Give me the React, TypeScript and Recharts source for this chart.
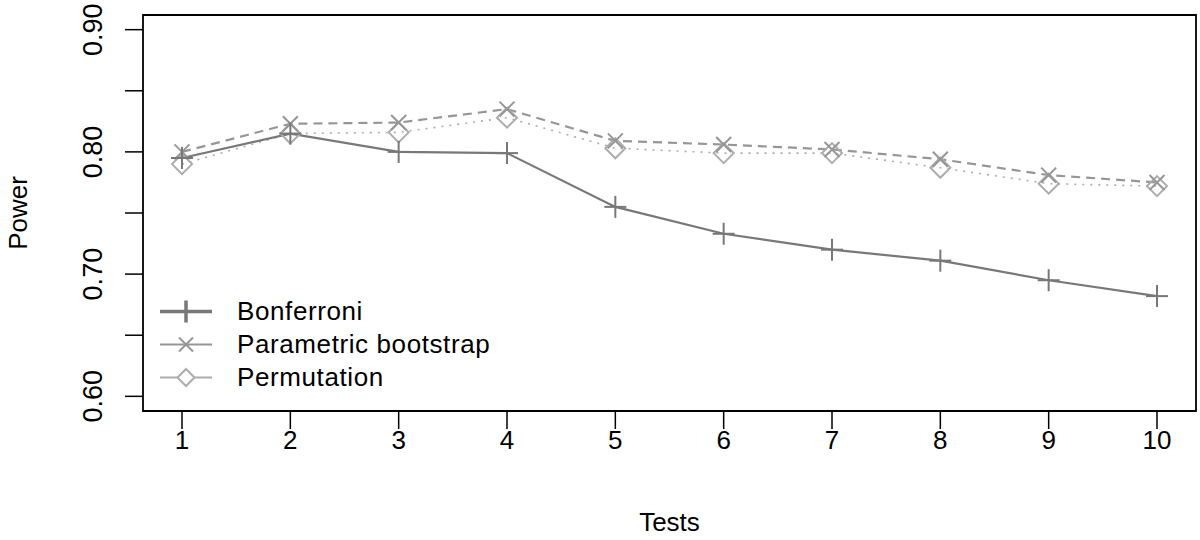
import React from "react";
import { LineChart, Line, XAxis, YAxis, ReferenceArea } from "recharts";

const tests = [1, 2, 3, 4, 5, 6, 7, 8, 9, 10];
const bonferroni = [0.795, 0.815, 0.8, 0.799, 0.755, 0.733, 0.72, 0.711, 0.695, 0.682];
const bootstrap = [0.8, 0.823, 0.824, 0.835, 0.809, 0.806, 0.802, 0.794, 0.781, 0.775];
const permutation = [0.79, 0.815, 0.816, 0.828, 0.803, 0.799, 0.799, 0.787, 0.774, 0.772];
const yTicks = [0.6, 0.65, 0.7, 0.75, 0.8, 0.85, 0.9];
const yLabelled = [0.6, 0.7, 0.8, 0.9];
const xDomain = [0.64, 10.36];
const yDomain = [0.588, 0.912];
const seriesNames = ["Bonferroni", "Parametric bootstrap", "Permutation"];

const data = tests.map((t, i) => ({
  test: t,
  bonferroni: bonferroni[i],
  bootstrap: bootstrap[i],
  permutation: permutation[i],
}));

const FONT = "'Liberation Sans', Arial, Helvetica, sans-serif";
const C_BON = "#787878";
const C_BOOT = "#969696";
const C_PERM = "#acacac";

const PlusDot = (props: any) => {
  const { cx, cy, index } = props;
  if (cx == null || cy == null) return <g key={`p${index}`} />;
  const r = 11;
  return (
    <g key={`p${index}`}>
      <line x1={cx - r} y1={cy} x2={cx + r} y2={cy} stroke={C_BON} strokeWidth={2} />
      <line x1={cx} y1={cy - r} x2={cx} y2={cy + r} stroke={C_BON} strokeWidth={2} />
    </g>
  );
};

const CrossDot = (props: any) => {
  const { cx, cy, index } = props;
  if (cx == null || cy == null) return <g key={`x${index}`} />;
  const r = 7.5;
  return (
    <g key={`x${index}`}>
      <line x1={cx - r} y1={cy - r} x2={cx + r} y2={cy + r} stroke={C_BOOT} strokeWidth={2} />
      <line x1={cx - r} y1={cy + r} x2={cx + r} y2={cy - r} stroke={C_BOOT} strokeWidth={2} />
    </g>
  );
};

const DiamondDot = (props: any) => {
  const { cx, cy, index } = props;
  if (cx == null || cy == null) return <g key={`d${index}`} />;
  const r = 10;
  return (
    <polygon
      key={`d${index}`}
      points={`${cx},${cy - r} ${cx + r},${cy} ${cx},${cy + r} ${cx - r},${cy}`}
      fill="none"
      stroke={C_PERM}
      strokeWidth={2}
    />
  );
};

const YTick = (props: any) => {
  const { x, y, payload } = props;
  const v = payload.value;
  const show = yLabelled.some((l) => Math.abs(l - v) < 1e-6);
  if (!show) return <g />;
  const tx = x - 21;
  return (
    <text
      x={tx}
      y={y}
      transform={`rotate(-90, ${tx}, ${y})`}
      textAnchor="middle"
      fontSize={27}
      fontFamily={FONT}
      fill="#000"
    >
      {v.toFixed(2)}
    </text>
  );
};

const LegendBox = () => {
  const rows = [
    { name: seriesNames[0], color: C_BON, w: 3.5, marker: "plus" },
    { name: seriesNames[1], color: C_BOOT, w: 2, marker: "cross" },
    { name: seriesNames[2], color: C_PERM, w: 2, marker: "diamond" },
  ];
  return (
    <div
      style={{
        position: "absolute",
        left: 156,
        top: 295,
        fontFamily: FONT,
        fontSize: 26,
        color: "#000",
      }}
    >
      {rows.map((r) => (
        <div key={r.name} style={{ display: "flex", alignItems: "center", height: 33 }}>
          <svg width={60} height={33} style={{ display: "block" }}>
            <line x1={4} y1={16.5} x2={56} y2={16.5} stroke={r.color} strokeWidth={r.w} />
            {r.marker === "plus" && (
              <line x1={30} y1={5.5} x2={30} y2={27.5} stroke={r.color} strokeWidth={3.5} />
            )}
            {r.marker === "cross" && (
              <g stroke={r.color} strokeWidth={2}>
                <line x1={23} y1={9.5} x2={37} y2={23.5} />
                <line x1={23} y1={23.5} x2={37} y2={9.5} />
              </g>
            )}
            {r.marker === "diamond" && (
              <polygon
                points="30,8 38.5,16.5 30,25 21.5,16.5"
                fill="white"
                stroke={r.color}
                strokeWidth={2}
              />
            )}
          </svg>
          <span style={{ marginLeft: 21, lineHeight: "33px", letterSpacing: 0.6 }}>{r.name}</span>
        </div>
      ))}
    </div>
  );
};

export default function App() {
  return (
    <div style={{ position: "absolute", left: 0, top: 0, width: 1200, height: 540, background: "#fff" }}>
      <LineChart
        width={1200}
        height={540}
        data={data}
        margin={{ top: 15, right: 4, bottom: 0, left: 0 }}
      >
        <XAxis
          dataKey="test"
          type="number"
          domain={xDomain}
          ticks={tests}
          allowDataOverflow
          axisLine={false}
          tickLine={{ stroke: "#000", strokeWidth: 1.5 }}
          tickSize={18}
          tickMargin={2}
          height={129}
          interval={0}
          tick={{ fontSize: 26, fontFamily: FONT, fill: "#000" }}
          label={{
            content: (p: any) => {
              const vb = p.viewBox;
              return (
                <text
                  x={vb.x + vb.width / 2}
                  y={531}
                  textAnchor="middle"
                  fontSize={26}
                  fontFamily={FONT}
                  fill="#000"
                >
                  Tests
                </text>
              );
            },
          }}
        />
        <YAxis
          type="number"
          domain={yDomain}
          ticks={yTicks}
          allowDataOverflow
          axisLine={false}
          tickLine={{ stroke: "#000", strokeWidth: 1.5 }}
          tickSize={18}
          tickMargin={2}
          width={143}
          interval={0}
          tick={<YTick />}
          label={{
            content: (p: any) => {
              const vb = p.viewBox;
              const cy = vb.y + vb.height / 2;
              return (
                <text
                  x={27}
                  y={cy}
                  transform={`rotate(-90, 27, ${cy})`}
                  textAnchor="middle"
                  fontSize={26}
                  fontFamily={FONT}
                  fill="#000"
                >
                  Power
                </text>
              );
            },
          }}
        />
        <ReferenceArea
          x1={xDomain[0]}
          x2={xDomain[1]}
          y1={yDomain[0]}
          y2={yDomain[1]}
          fill="#fff"
          fillOpacity={0}
          stroke="#000"
          strokeWidth={1.8}
          ifOverflow="visible"
        />
        <Line
          dataKey="permutation"
          name={seriesNames[2]}
          stroke={C_PERM}
          strokeWidth={1.6}
          strokeDasharray="2 6"
          dot={DiamondDot}
          activeDot={false}
          isAnimationActive={false}
        />
        <Line
          dataKey="bootstrap"
          name={seriesNames[1]}
          stroke={C_BOOT}
          strokeWidth={2.2}
          strokeDasharray="9 6"
          dot={CrossDot}
          activeDot={false}
          isAnimationActive={false}
        />
        <Line
          dataKey="bonferroni"
          name={seriesNames[0]}
          stroke={C_BON}
          strokeWidth={2.2}
          dot={PlusDot}
          activeDot={false}
          isAnimationActive={false}
        />
      </LineChart>
      <LegendBox />
    </div>
  );
}
